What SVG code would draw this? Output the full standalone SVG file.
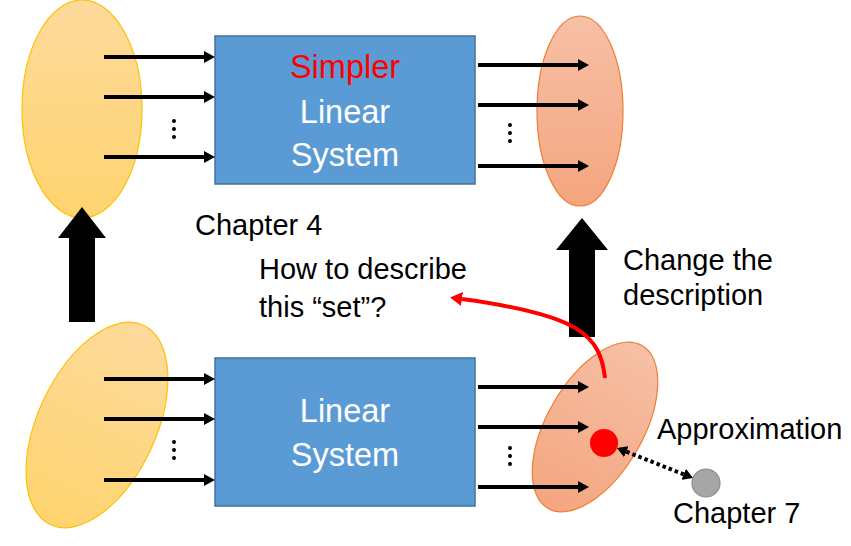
<svg xmlns="http://www.w3.org/2000/svg" width="851" height="546" viewBox="0 0 851 546">
<style>
.box{fill:#5b9bd5;stroke:#41719c;stroke-width:1.5}
.yel{fill:url(#gy);stroke:#ffc000;stroke-width:1.2}
.org{fill:url(#go);stroke:#ed7d31;stroke-width:1.2}
.arr{stroke:#000;stroke-width:4;fill:none;marker-end:url(#ah)}
.dot{fill:#000}
.t{font-family:"Liberation Sans",Arial,sans-serif;font-size:29px;fill:#000}
.big{font-family:"Liberation Sans",Arial,sans-serif;font-size:32.5px;fill:#fff;text-anchor:middle}
.blk{fill:#000}
</style>
<defs>
<linearGradient id="gy" x1="0" y1="0" x2="0" y2="1"><stop offset="0" stop-color="#fdda9c"/><stop offset="1" stop-color="#ffd46f"/></linearGradient>
<linearGradient id="go" x1="0" y1="0" x2="0" y2="1"><stop offset="0" stop-color="#f7c0a6"/><stop offset="1" stop-color="#f4a57f"/></linearGradient>
<marker id="ah" markerUnits="userSpaceOnUse" markerWidth="12" markerHeight="12" refX="0" refY="6" orient="auto"><path d="M0,0 L11,6 L0,12 z" fill="#000"/></marker>
<marker id="ahr" markerUnits="userSpaceOnUse" markerWidth="14" markerHeight="14" refX="0" refY="7" orient="auto"><path d="M0,0 L12,7 L0,14 z" fill="#ff0000"/></marker>
<marker id="ahd" markerUnits="userSpaceOnUse" markerWidth="12" markerHeight="12" refX="0" refY="6" orient="auto-start-reverse"><path d="M0,0 L10,6 L0,12 z" fill="#000"/></marker>
</defs>

<g id="input-top"><ellipse class="yel" cx="82" cy="109" rx="60" ry="109"/></g>
<g id="output-top"><ellipse class="org" cx="580" cy="111" rx="43" ry="95"/></g>
<g id="input-bottom"><ellipse class="yel" cx="97" cy="425" rx="59" ry="110" transform="rotate(25 97 425)"/></g>
<g id="output-bottom"><ellipse class="org" cx="595" cy="427" rx="48" ry="94" transform="rotate(30 595 427)"/></g>

<g id="system-top">
<rect class="box" x="215" y="36" width="260" height="148"/>
<text x="345" y="78" font-family="Liberation Sans,Arial,sans-serif" font-size="32.5" fill="#ff0000" text-anchor="middle">Simpler</text>
<text class="big" x="345" y="123">Linear</text>
<text class="big" x="345" y="166">System</text>
</g>
<g id="system-bottom">
<rect class="box" x="215" y="358" width="260" height="148"/>
<text class="big" x="345" y="422">Linear</text>
<text class="big" x="345" y="466">System</text>
</g>

<g id="block-arrow-left"><polygon class="blk" points="69,322 95,322 95,238 106,238 82,207 58,238 69,238"/></g>
<g id="block-arrow-right"><polygon class="blk" points="569,337 595,337 595,250 608,250 582,218 556,250 569,250"/></g>

<g id="approx-point"><circle cx="604" cy="443" r="14" fill="#ff0000"/></g>
<g id="chapter7-point"><circle cx="706" cy="483" r="14" fill="#a6a6a6" stroke="#8c8c8c" stroke-width="1.2"/></g>

<g id="connectors">
<line class="arr" x1="104" y1="57" x2="204" y2="57"/>
<line class="arr" x1="104" y1="97" x2="204" y2="97"/>
<line class="arr" x1="104" y1="157" x2="204" y2="157"/>
<line class="arr" x1="478" y1="65" x2="578" y2="65"/>
<line class="arr" x1="478" y1="105" x2="578" y2="105"/>
<line class="arr" x1="478" y1="166" x2="578" y2="166"/>
<line class="arr" x1="104" y1="379" x2="204" y2="379"/>
<line class="arr" x1="104" y1="419" x2="204" y2="419"/>
<line class="arr" x1="104" y1="480" x2="204" y2="480"/>
<line class="arr" x1="478" y1="387" x2="578" y2="387"/>
<line class="arr" x1="478" y1="427" x2="578" y2="427"/>
<line class="arr" x1="478" y1="487" x2="578" y2="487"/>
<path d="M605,378 C600,335 580,315 462,299" fill="none" stroke="#ff0000" stroke-width="4" marker-end="url(#ahr)"/>
<line x1="626.3" y1="451.7" x2="683.7" y2="474.3" stroke="#000" stroke-width="4" stroke-dasharray="3.5,3" marker-start="url(#ahd)" marker-end="url(#ahd)"/>
</g>

<g id="ellipsis">
<circle class="dot" cx="174" cy="121" r="2"/><circle class="dot" cx="174" cy="129" r="2"/><circle class="dot" cx="174" cy="137" r="2"/>
<circle class="dot" cx="510" cy="125" r="2"/><circle class="dot" cx="510" cy="133" r="2"/><circle class="dot" cx="510" cy="141" r="2"/>
<circle class="dot" cx="174" cy="442" r="2"/><circle class="dot" cx="174" cy="450" r="2"/><circle class="dot" cx="174" cy="458" r="2"/>
<circle class="dot" cx="510" cy="448" r="2"/><circle class="dot" cx="510" cy="456" r="2"/><circle class="dot" cx="510" cy="464" r="2"/>
</g>

<g id="labels">
<text class="t" x="195" y="235">Chapter 4</text>
<text class="t" x="259" y="279">How to describe</text>
<text class="t" x="259" y="317">this “set”?</text>
<text class="t" x="623" y="270">Change the</text>
<text class="t" x="623" y="305">description</text>
<text class="t" x="657" y="439">Approximation</text>
<text class="t" x="673" y="523">Chapter 7</text>
</g>
</svg>
